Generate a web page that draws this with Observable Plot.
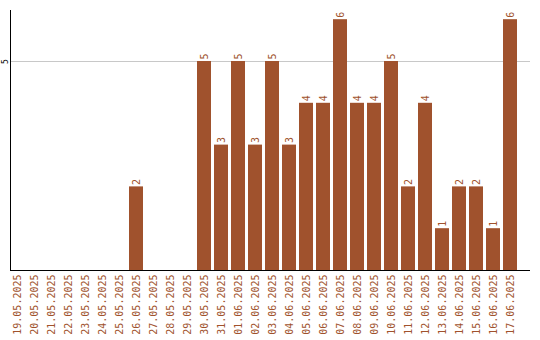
<!DOCTYPE html>
<html><head><meta charset="utf-8">
<script src="https://cdn.jsdelivr.net/npm/d3@7"></script>
<script src="https://cdn.jsdelivr.net/npm/@observablehq/plot@0.6"></script>
<style>body{margin:0;background:#fff}</style>
</head><body><div id="chart"></div>
<script>
const dates = ["19.05.2025","20.05.2025","21.05.2025","22.05.2025","23.05.2025","24.05.2025","25.05.2025","26.05.2025","27.05.2025","28.05.2025","29.05.2025","30.05.2025","31.05.2025","01.06.2025","02.06.2025","03.06.2025","04.06.2025","05.06.2025","06.06.2025","07.06.2025","08.06.2025","09.06.2025","10.06.2025","11.06.2025","12.06.2025","13.06.2025","14.06.2025","15.06.2025","16.06.2025","17.06.2025"];
const values = [0,0,0,0,0,0,0,2,0,0,0,5,3,5,3,5,3,4,4,6,4,4,5,2,4,1,2,2,1,6];
const yTicks = [5];
const data = dates.map((d, i) => ({date: d, value: values[i]}));
const color = "#a0522d";
const chart = Plot.plot({
  width: 540, height: 340,
  marginLeft: 10, marginRight: 10, marginTop: 10, marginBottom: 70,
  style: {fontFamily: "DejaVu Sans Mono", background: "#fff"},
  x: {domain: dates, paddingInner: 0.176, paddingOuter: 0.38, align: 0, label: null},
  y: {domain: [0, 6.22], label: null},
  marks: [
    Plot.ruleY(yTicks, {stroke: "#c8c8c8", strokeWidth: 1}),
    Plot.barY(data, {x: "date", y: "value", fill: color}),
    Plot.text(data.filter(d => d.value > 0), {x: "date", y: "value", text: d => String(d.value), rotate: -90, textAnchor: "start", dy: -2, fill: color, fontSize: 10, lineAnchor: "middle"}),
    Plot.axisX({tickSize: 0, tickPadding: 4, tickRotate: -90, fill: color, fontSize: 10, label: null}),
    Plot.axisY({ticks: yTicks, tickFormat: d => String(d), tickSize: 0, tickPadding: 3, tickRotate: -90, fontSize: 8, fill: "#000", label: null}),
    Plot.ruleY([0], {stroke: "#000", strokeWidth: 1}),
    Plot.frame({anchor: "left", stroke: "#000", strokeWidth: 1})
  ]
});
document.getElementById("chart").append(chart);
</script></body></html>
